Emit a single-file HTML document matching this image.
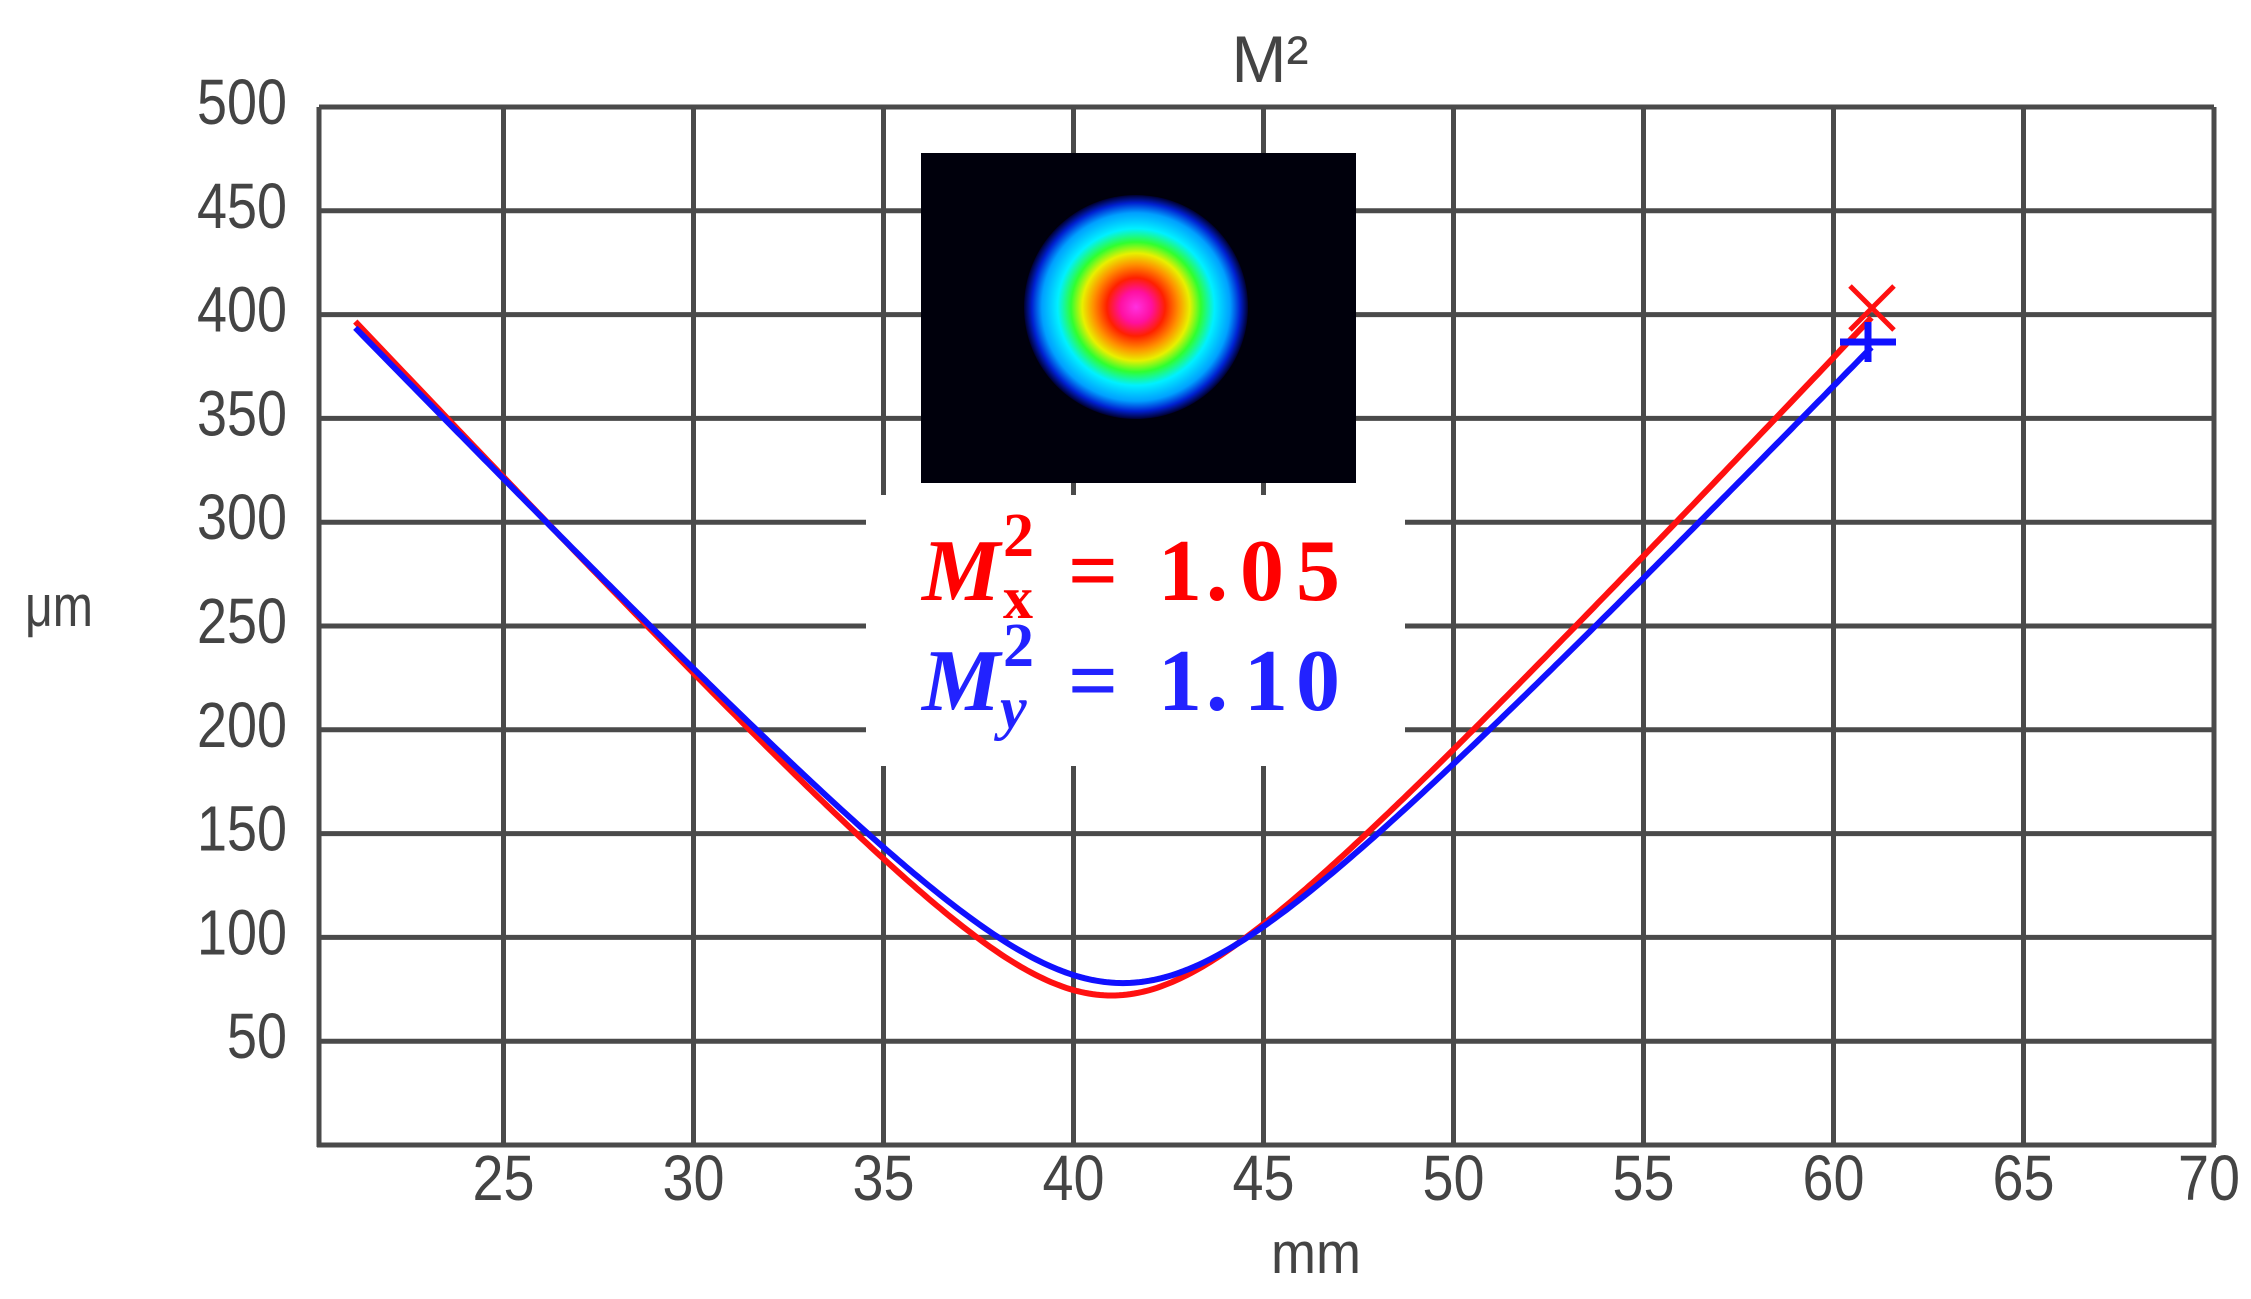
<!DOCTYPE html>
<html><head><meta charset="utf-8"><style>
html,body{margin:0;padding:0;background:#fff;}
svg{display:block;}
.t{font-family:"Liberation Sans",sans-serif;fill:#444;}
.m{font-family:"Liberation Serif",serif;font-weight:bold;}
</style></head><body>
<svg id="s" width="2251" height="1299" viewBox="0 0 2251 1299" xmlns="http://www.w3.org/2000/svg">
<defs>
<radialGradient id="beam" cx="1136" cy="307" r="112" gradientUnits="userSpaceOnUse">
<stop offset="0" stop-color="#ff30e0"/>
<stop offset="0.14" stop-color="#ff10a0"/>
<stop offset="0.26" stop-color="#ff2000"/>
<stop offset="0.38" stop-color="#ff9000"/>
<stop offset="0.48" stop-color="#e8f000"/>
<stop offset="0.58" stop-color="#30ff30"/>
<stop offset="0.70" stop-color="#00f0ff"/>
<stop offset="0.84" stop-color="#00a0ff"/>
<stop offset="0.93" stop-color="#0020d0"/>
<stop offset="1" stop-color="#000030"/>
</radialGradient>
</defs>
<g id="grid" stroke="#4a4a4a" stroke-width="5"></g>
<rect x="866" y="495" width="539" height="271" fill="#fff"/>
<rect x="921" y="153" width="435" height="330" fill="#00000c"/>
<circle cx="1136" cy="307" r="112" fill="url(#beam)"/>
<g id="curves" fill="none" stroke-width="6"></g>
<path d="M1850 286 L1894 330 M1894 286 L1850 330" stroke="#ff1010" stroke-width="5"/>
<path d="M1840 342 L1896 342 M1868 322 L1868 362" stroke="#1010ff" stroke-width="7"/>
<text class="t" x="1270" y="82" font-size="66" text-anchor="middle" fill="#333">M²</text>
<g id="labels" class="t" font-size="64"></g>
<text class="t" x="25" y="626" font-size="58" textLength="68" lengthAdjust="spacingAndGlyphs">μm</text>
<text class="t" x="1271" y="1273" font-size="58" textLength="90" lengthAdjust="spacingAndGlyphs">mm</text>
<g class="m" fill="#ff0000">
<text x="922" y="600" font-size="88" font-style="italic">M</text>
<text x="1003" y="556" font-size="62">2</text>
<text x="1003" y="618" font-size="60">x</text>
<text x="1068" y="600" font-size="88">=</text>
<text x="1158" y="600" font-size="88">1</text>
<text x="1206" y="600" font-size="88">.</text>
<text x="1240" y="600" font-size="88">0</text>
<text x="1296" y="600" font-size="88">5</text>
</g>
<g class="m" fill="#2222ff">
<text x="922" y="710" font-size="88" font-style="italic">M</text>
<text x="1003" y="666" font-size="62">2</text>
<text x="1000" y="728" font-size="60" font-style="italic">y</text>
<text x="1068" y="710" font-size="88">=</text>
<text x="1158" y="710" font-size="88">1</text>
<text x="1206" y="710" font-size="88">.</text>
<text x="1244" y="710" font-size="88">1</text>
<text x="1296" y="710" font-size="88">0</text>
</g>
</svg>
<script>
var NS="http://www.w3.org/2000/svg";
function X(z){return 313.5+(z-20)*38;}
function Y(v){return 1145-v*2.076;}
function el(p,tag,a,txt){var e=document.createElementNS(NS,tag);for(var k in a)e.setAttribute(k,a[k]);if(txt)e.textContent=txt;p.appendChild(e);return e;}
var g=document.getElementById('grid');
var L=319,R=2214,T=107,B=1145;
for(var v=50;v<=500;v+=50){var y=Y(v);
 if(y>495&&y<766){el(g,'line',{x1:L,y1:y,x2:866,y2:y});el(g,'line',{x1:1405,y1:y,x2:R,y2:y});}
 else el(g,'line',{x1:L,y1:y,x2:R,y2:y});}
for(var z=25;z<=70;z+=5){var x=X(z);if(z==70)x=R;
 if(x>866&&x<1405){el(g,'line',{x1:x,y1:T,x2:x,y2:495});el(g,'line',{x1:x,y1:766,x2:x,y2:B});}
 else el(g,'line',{x1:x,y1:T,x2:x,y2:B});}
el(g,'line',{x1:L,y1:T,x2:L,y2:B+2});
el(g,'line',{x1:L-2,y1:B,x2:R+2,y2:B});
var lb=document.getElementById('labels');
for(var v=50;v<=500;v+=50){el(lb,'text',{x:287,y:Y(v)+17,'text-anchor':'end',textLength:(v>=100?90:60),lengthAdjust:'spacingAndGlyphs'},String(v));}
for(var z=25;z<=70;z+=5){var x=X(z);if(z==70)x=R-5;el(lb,'text',{x:x,y:1200,'text-anchor':'middle',textLength:62,lengthAdjust:'spacingAndGlyphs'},String(z));}
var c=document.getElementById('curves');
function curve(z0,w0,th,z1,z2,col){var d='';for(var z=z1;z<=z2+1e-6;z+=0.1){var w=Math.sqrt(w0*w0+th*th*(z-z0)*(z-z0));d+=(d?'L':'M')+X(z).toFixed(1)+' '+Y(w).toFixed(1);}el(c,'path',{d:d,stroke:col});}
curve(41.0,72,19.6,21.1,61.0,'#ff1010');
curve(41.3,78,19.1,21.1,61.0,'#1010ff');
</script>
</body></html>
